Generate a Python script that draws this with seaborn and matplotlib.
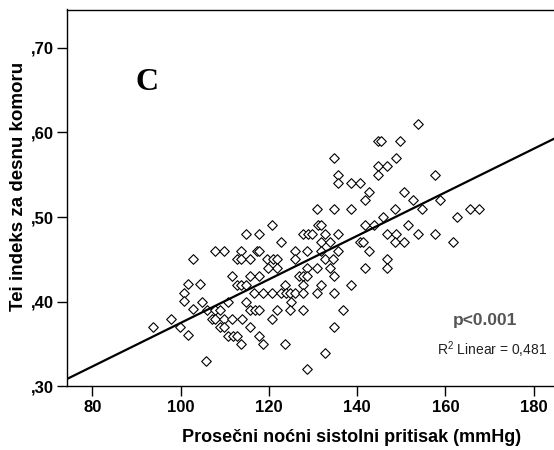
import matplotlib
matplotlib.use("Agg")
import matplotlib.pyplot as plt
import numpy as np
import pandas as pd
import seaborn as sns

# --- data ---
pressure = [93.8, 97.8, 99.8, 101.7, 100.8, 100.8, 101.7, 102.7, 104.4, 102.7, 104.8,
            120.7, 114.7, 117.8, 122.7, 107.8, 109.8, 113.7, 112.8, 113.6, 115.8, 117.2,
            117.7, 119.6, 120.9, 121.8, 125.8, 125.8, 121.8, 119.8, 117.8, 115.7, 111.7,
            112.7, 113.7, 114.7, 123.6, 116.6, 118.7, 120.8, 122.7, 123.9, 124.8, 125.9,
            110.7, 114.8, 124.9, 105.9, 107.8, 108.8, 115.7, 116.9, 117.8, 121.8, 124.8,
            107.0, 107.8, 109.8, 111.7, 113.8, 120.6, 108.8, 109.8, 115.7, 110.8, 111.9,
            112.7, 117.8, 113.7, 118.7, 123.6, 105.8,
            144.8, 145.5, 149.7, 134.7, 148.7, 144.8, 146.8, 135.7, 144.8, 135.7, 138.7,
            140.7, 142.7, 150.7, 141.8, 130.8, 134.7, 138.7, 148.6, 145.8, 131.2, 131.7,
            141.8, 143.8, 151.4, 127.8, 128.9, 129.8, 132.7, 135.7, 146.7, 148.7, 131.7,
            133.8, 140.6, 141.4, 148.6, 150.7, 128.7, 131.7, 135.7, 142.7, 132.7, 134.6,
            146.7, 128.7, 130.8, 133.8, 141.8, 146.7, 126.7, 127.8, 128.7, 134.7, 127.8,
            131.7, 138.7, 127.8, 130.8, 134.7, 127.8, 136.7, 134.7, 132.7, 128.7,
            153.7, 157.6, 152.7, 158.8, 154.7, 162.7, 165.5, 167.7, 153.7, 157.6, 161.6]
tei = [0.370, 0.380, 0.370, 0.361, 0.410, 0.401, 0.421, 0.450, 0.421, 0.391, 0.400,
       0.490, 0.480, 0.480, 0.470, 0.460, 0.460, 0.460, 0.450, 0.450, 0.450, 0.460,
       0.460, 0.450, 0.450, 0.450, 0.460, 0.450, 0.440, 0.440, 0.430, 0.430, 0.430,
       0.420, 0.420, 0.420, 0.420, 0.410, 0.410, 0.410, 0.410, 0.410, 0.410, 0.410,
       0.400, 0.400, 0.400, 0.390, 0.390, 0.390, 0.390, 0.390, 0.390, 0.390, 0.390,
       0.380, 0.380, 0.380, 0.380, 0.380, 0.380, 0.370, 0.370, 0.370, 0.360, 0.360,
       0.360, 0.360, 0.350, 0.350, 0.350, 0.330,
       0.590, 0.590, 0.590, 0.570, 0.570, 0.560, 0.560, 0.550, 0.550, 0.540, 0.540,
       0.540, 0.530, 0.530, 0.520, 0.510, 0.510, 0.510, 0.510, 0.500, 0.490, 0.490,
       0.490, 0.490, 0.490, 0.480, 0.480, 0.480, 0.480, 0.480, 0.480, 0.480, 0.470,
       0.470, 0.470, 0.470, 0.470, 0.470, 0.460, 0.460, 0.460, 0.460, 0.450, 0.450,
       0.450, 0.440, 0.440, 0.440, 0.440, 0.440, 0.430, 0.430, 0.430, 0.430, 0.420,
       0.420, 0.420, 0.410, 0.410, 0.410, 0.390, 0.390, 0.370, 0.340, 0.320,
       0.610, 0.550, 0.520, 0.520, 0.510, 0.500, 0.510, 0.510, 0.480, 0.480, 0.470]

x_ticks = [80, 100, 120, 140, 160, 180]
x_tick_labels = ["80", "100", "120", "140", "160", "180"]
y_ticks = [0.30, 0.40, 0.50, 0.60, 0.70]
y_tick_labels = [",30", ",40", ",50", ",60", ",70"]

x_label = "Prosečni noćni sistolni pritisak (mmHg)"
y_label = "Tei indeks za desnu komoru"
panel_letter = "C"
p_text = "p<0.001"
r2_text = "R$^{2}$ Linear = 0,481"

# --- styling ---
sns.set_theme(style="white")
plt.rcParams['font.family'] = ['Liberation Sans', 'DejaVu Sans']
plt.rcParams['mathtext.fontset'] = 'custom'
plt.rcParams['mathtext.rm'] = 'Liberation Sans'
for key in ["text.color", "axes.labelcolor", "xtick.color", "ytick.color"]:
    plt.rcParams[key] = "black"

W, H = 554, 450
fig = plt.figure(figsize=(W / 100, H / 100), dpi=100)
left_px, right_px, top_px, bottom_px = 67.3, 554, 9.5, 386.4
ax = fig.add_axes([left_px / W, 1 - bottom_px / H,
                   (right_px - left_px) / W, (bottom_px - top_px) / H])
ax.set_xlim(74.3, 184.6)
ax.set_ylim(0.30, 0.745)

df = pd.DataFrame({"pressure": pressure, "tei": tei})
sns.regplot(data=df, x="pressure", y="tei", ax=ax, ci=None, truncate=False,
            color="black", marker="D",
            scatter_kws=dict(s=24, facecolor="white", edgecolor="black",
                             linewidths=0.8, alpha=1, zorder=3),
            line_kws=dict(color="black", lw=1.6, zorder=4))
ax.set_xlim(74.3, 184.6)
ax.set_ylim(0.30, 0.745)

ax.set_xticks(x_ticks)
ax.set_xticklabels(x_tick_labels, fontsize=12, fontweight="bold")
ax.set_yticks(y_ticks)
ax.set_yticklabels(y_tick_labels, fontsize=12, fontweight="bold")
ax.tick_params(axis="both", direction="out", length=7, width=1, color="black",
               labelcolor="black", bottom=True, left=True, pad=2.5)

for side in ["left", "bottom", "top"]:
    ax.spines[side].set_visible(True)
    ax.spines[side].set_color("black")
    ax.spines[side].set_linewidth(1.0)
ax.spines["right"].set_visible(False)

ax.set_xlabel(x_label, fontsize=13, fontweight="bold", color="black")
ax.set_ylabel(y_label, fontsize=13.5, fontweight="bold", color="black")
ax.xaxis.set_label_coords(0.585, -0.112)
ax.yaxis.set_label_coords(-0.083, 0.53)

ax.text(0.164, 0.805, panel_letter, transform=ax.transAxes, ha="center", va="center",
        fontsize=23, fontweight="bold", color="black",
        family=["Liberation Serif", "DejaVu Serif"])
ax.text(0.858, 0.176, p_text, transform=ax.transAxes, ha="center", va="center",
        fontsize=12.5, fontweight="bold", color="#555555")
ax.text(0.873, 0.097, r2_text, transform=ax.transAxes, ha="center", va="center",
        fontsize=10, color="#222222")

fig.savefig("out.png", dpi=100)
